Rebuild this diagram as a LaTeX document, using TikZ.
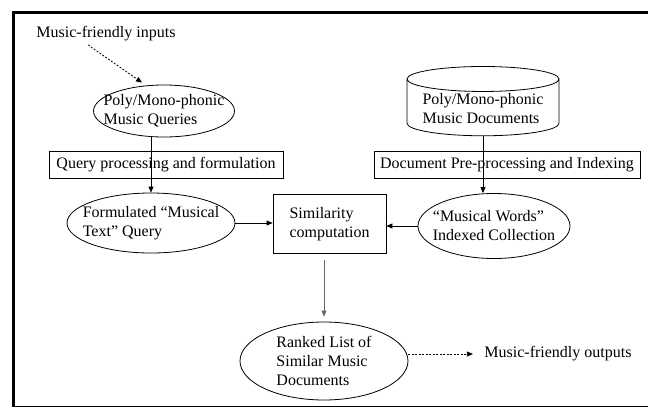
\documentclass[tikz,border=0pt]{standalone}
\usepackage{fontspec}
\setmainfont{Liberation Serif}
\usetikzlibrary{arrows.meta,shapes.geometric}
\tikzset{music ellipse/.style={ellipse, draw, line width=0.8pt, inner sep=-16pt, align=left},
     process box/.style={rectangle, draw, line width=0.8pt, inner sep=2pt, minimum height=27pt},
     db cylinder/.style={cylinder, shape border rotate=90, aspect=0.2, draw, line width=0.8pt,
           inner sep=2pt, align=left},
     flow arrow/.style={-{Triangle[length=6pt,width=5pt]}, line width=0.8pt},
     hint arrow/.style={flow arrow, dash pattern=on 2pt off 1.5pt}
     }

\begin{document}
\begin{tikzpicture}[x=1pt, y=-1pt, font=\fontsize{16}{19}\selectfont]
\useasboundingbox (0,0) rectangle (648,408);
% frame
\draw[line width=3pt] (12,12.5) -- (648,12.5);
\draw[line width=3pt] (13.5,11) -- (13.5,407);
\draw[line width=1.2pt] (12,406.6) -- (648,406.6);

% query side
\node (inputs) at (106,34) {Music-friendly inputs};
\node[music ellipse, minimum width=141pt, minimum height=52pt] (queries) at (164,111)
  {Poly/Mono-phonic\\Music Queries};
\node[process box, minimum width=234pt] (qproc) at (166,164.5) {Query processing and formulation};
\node[music ellipse, minimum width=168pt, minimum height=60pt] (formq) at (151,223)
  {Formulated ``Musical\\Text'' Query};

% document side
\node[db cylinder, minimum width=152pt, minimum height=68pt] (docs) at (483,109)
  {Poly/Mono-phonic\\Music Documents};
\node[process box, minimum width=266pt] (dproc) at (507,164.5) {Document Pre-processing and Indexing};
\node[music ellipse, minimum width=152pt, minimum height=65pt] (words) at (494,226)
  {``Musical Words''\\Indexed Collection};

% matching and output
\node[process box, align=left, minimum width=113pt, minimum height=59pt] (simil) at (329.5,224)
  {Similarity\\computation};
\node[music ellipse, minimum width=168pt, minimum height=78pt] (ranked) at (324,361)
  {Ranked List of\\Similar Music\\Documents};
\node (outputs) at (558,354) {Music-friendly outputs};

% connectors
\draw[hint arrow, shorten >=5pt] ([xshift=-18pt]inputs.south) -- (queries.125);
\draw[flow arrow] (formq.north |- queries.south) -- (formq.north);
\draw[flow arrow] (docs.south) -- (docs.south |- words.north);
\draw[flow arrow] (formq.east) -- (formq.east -| simil.west);
\draw[flow arrow] (words.west) -- (words.west -| simil.east);
\draw[flow arrow, black!60, shorten <=6pt, shorten >=5pt] (simil.south -| ranked.north) -- (ranked.north);
\draw[hint arrow, shorten >=8pt] (outputs.west -| ranked.east) -- (outputs.west);
\end{tikzpicture}
\end{document}
